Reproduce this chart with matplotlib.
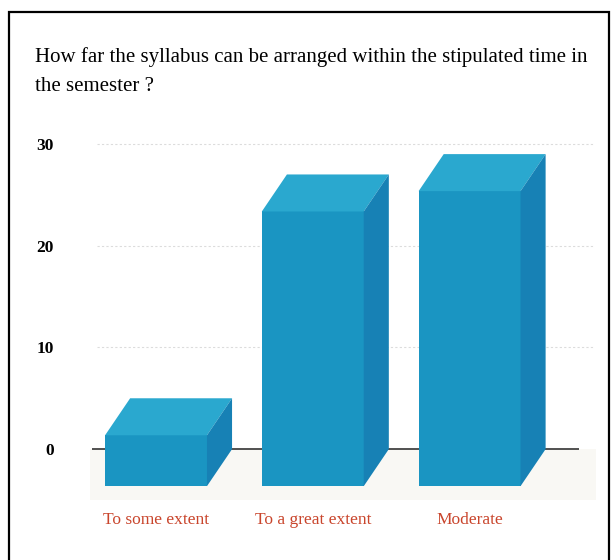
import numpy as np
import matplotlib.pyplot as plt
from matplotlib.patches import Polygon, Rectangle

categories = ['To some extent', 'To a great extent', 'Moderate']
values = [5, 27, 29]
y_ticks = [0, 10, 20, 30]
title = 'How far the syllabus can be arranged within the stipulated time in\nthe semester ?'

plt.rcParams['font.family'] = ['Liberation Serif', 'DejaVu Serif']

W, H = 615, 560
fig = plt.figure(figsize=(W / 100, H / 100), dpi=100)


def px_box(x0, y0, x1, y1):
    # pixel box (top-left origin) -> figure fraction
    return [x0 / W, 1 - y1 / H, (x1 - x0) / W, (y1 - y0) / H]


# outer frame (bottom edge runs off the page in the scan)
fig.patches.append(Rectangle((9 / W, -20 / H), 600 / W, (H - 12 + 20) / H,
                             transform=fig.transFigure, fill=False,
                             edgecolor='black', linewidth=1.6))

fig.text(35 / W, 1 - 47 / H, title, fontsize=15, va='top', ha='left',
         linespacing=1.75)

ax = fig.add_axes(px_box(90, 130, 595, 500))
ax.set_xlim(-0.421, 2.80)
ax.set_ylim(-5.0, 31.37)
for s in ax.spines.values():
    s.set_visible(False)

w = 0.65      # bar width
dx = 0.16     # depth offset in x
dy = 3.64     # depth offset in y

front_c = '#1a95c2'
top_c = '#2aa8cf'
side_c = '#1781b5'

# faint floor shadow
ax.fill_between([-0.5, 2.82], -5, 0, color='#f9f8f4', zorder=0, lw=0)

for yv in y_ticks[1:]:
    ax.hlines(yv, -0.377, 2.80, colors='#dcdcdc', linestyles=(0, (2, 2)),
              linewidth=0.8, zorder=1)
ax.hlines(0, -0.41, 2.70, colors='#222222', linewidth=1.1, zorder=1)

x = np.arange(len(values))
ax.bar(x, values, width=w, bottom=-dy, color=front_c, zorder=3)
for xi, v in zip(x, values):
    l, r = xi - w / 2, xi + w / 2
    top = Polygon([(l, v - dy), (r, v - dy), (r + dx, v), (l + dx, v)],
                  closed=True, facecolor=top_c, edgecolor='none', zorder=3)
    side = Polygon([(r, -dy), (r + dx, 0), (r + dx, v), (r, v - dy)],
                   closed=True, facecolor=side_c, edgecolor='none', zorder=3)
    ax.add_patch(top)
    ax.add_patch(side)

ax.set_yticks(y_ticks)
ax.set_yticklabels([str(t) for t in y_ticks], fontsize=12.5, fontweight='bold')
ax.tick_params(axis='y', length=0, pad=26)
ax.set_xticks(x)
ax.set_xticklabels(categories, fontsize=12.5, color='#c9452c')
ax.tick_params(axis='x', length=0, pad=9)

fig.savefig('out.png', dpi=100)
